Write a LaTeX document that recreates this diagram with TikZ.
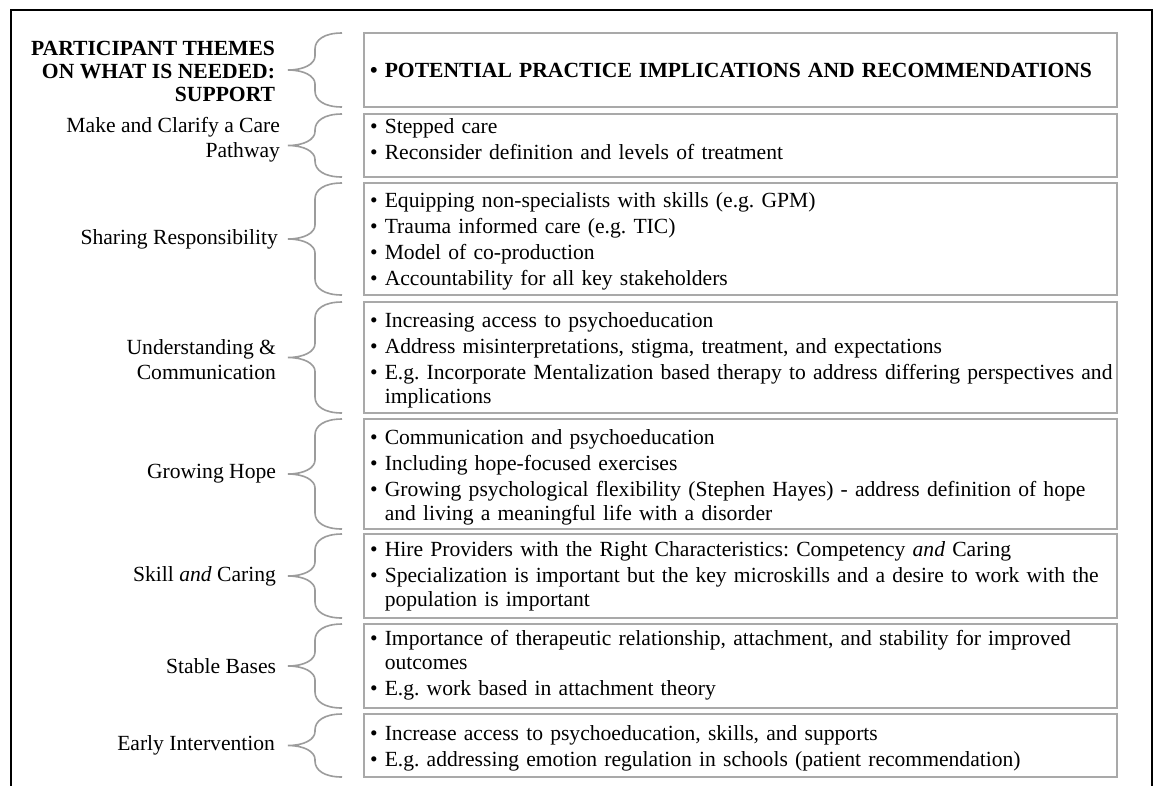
\documentclass[tikz,border=0pt]{standalone}
\usepackage{fontspec}
\setmainfont{Liberation Serif}
\usetikzlibrary{calc}
\definecolor{panelgray}{HTML}{A9A9A9}
\definecolor{bracegray}{HTML}{9C9C9C}
\frenchspacing
% hanging indent for a wrapped bullet line
\newcommand{\hang}{\phantom{\textbullet\ }}
% curly bracket on the left side of a panel node
\newcommand{\bracefor}[1]{%
  \draw[bracket]
    ($(#1.north west)+(-22,0)$)
    .. controls ($(#1.north west)+(-40,0)$) and ($(#1.north west)+(-49,7)$) ..
    ($(#1.north west)+(-49,16)$)
    -- ($(#1.west)+(-49,-14)$)
    .. controls ($(#1.west)+(-49,-6)$) and ($(#1.west)+(-60,0)$) ..
    ($(#1.west)+(-76,0)$)
    .. controls ($(#1.west)+(-60,0)$) and ($(#1.west)+(-49,6)$) ..
    ($(#1.west)+(-49,14)$)
    -- ($(#1.south west)+(-49,-16)$)
    .. controls ($(#1.south west)+(-49,-7)$) and ($(#1.south west)+(-40,0)$) ..
    ($(#1.south west)+(-22,0)$);}
\begin{document}
\begin{tikzpicture}[x=1pt,y=-1pt,
  every node/.style={inner sep=0pt, outer sep=0pt},
  panel/.style={draw=panelgray, line width=2pt, minimum width=753pt, anchor=north west},
  items/.style={font=\fontsize{21.6}{24.5}\selectfont, text width=780pt, align=left, anchor=base west},
  headitems/.style={items, font=\fontsize{21.6}{24.5}\selectfont\bfseries},
  theme/.style={font=\fontsize{21.6}{24.5}\selectfont, align=right, anchor=east},
  headtheme/.style={theme, font=\fontsize{21.6}{23}\selectfont\bfseries},
  bracket/.style={draw=bracegray, line width=1.6pt},
  frame/.style={line width=2.6pt}]

\fill[white] (0,0) rectangle (1155,785);
\useasboundingbox (0,0) rectangle (1155,785);

% outer frame, open at the bottom
\draw[frame] (11,790) -- (11,10) -- (1152,10) -- (1152,790);

% right-hand panels
\node[panel, minimum height=74pt]  (p1) at (364,33)  {};
\node[panel, minimum height=63pt]  (p2) at (364,114) {};
\node[panel, minimum height=112pt] (p3) at (364,183) {};
\node[panel, minimum height=111pt] (p4) at (364,302) {};
\node[panel, minimum height=110pt] (p5) at (364,419) {};
\node[panel, minimum height=84pt]  (p6) at (364,534) {};
\node[panel, minimum height=84pt]  (p7) at (364,624) {};
\node[panel, minimum height=63pt]  (p8) at (364,714) {};

% panel contents
\node[headitems] (i1) at ($(p1.west)+(6,7)$)
  {\textbullet\ POTENTIAL PRACTICE IMPLICATIONS AND RECOMMENDATIONS};
\node[items] (i2) at ($(p2.north west)+(6,19)$)
  {\textbullet\ Stepped care\\[1.5pt]
   \textbullet\ Reconsider definition and levels of treatment};
\node[items] (i3) at ($(p3.north west)+(6,24)$)
  {\textbullet\ Equipping non-specialists with skills (e.g. GPM)\\[1.5pt]
   \textbullet\ Trauma informed care (e.g. TIC)\\[1.5pt]
   \textbullet\ Model of co-production\\[1.5pt]
   \textbullet\ Accountability for all key stakeholders};
\node[items] (i4) at ($(p4.north west)+(6,25)$)
  {\textbullet\ Increasing access to psychoeducation\\[1.5pt]
   \textbullet\ Address misinterpretations, stigma, treatment, and expectations\\[1.5pt]
   \textbullet\ E.g. Incorporate Mentalization based therapy to address differing perspectives and\\
   \hang implications};
\node[items] (i5) at ($(p5.north west)+(6,25)$)
  {\textbullet\ Communication and psychoeducation\\[1.5pt]
   \textbullet\ Including hope-focused exercises\\[1.5pt]
   \textbullet\ Growing psychological flexibility (Stephen Hayes) - address definition of hope\\
   \hang and living a meaningful life with a disorder};
\node[items] (i6) at ($(p6.north west)+(6,22)$)
  {\textbullet\ Hire Providers with the Right Characteristics: Competency \emph{and} Caring\\[1.5pt]
   \textbullet\ Specialization is important but the key microskills and a desire to work with the\\
   \hang population is important};
\node[items] (i7) at ($(p7.north west)+(6,21)$)
  {\textbullet\ Importance of therapeutic relationship, attachment, and stability for improved\\
   \hang outcomes\\[1.5pt]
   \textbullet\ E.g. work based in attachment theory};
\node[items] (i8) at ($(p8.north west)+(6,26)$)
  {\textbullet\ Increase access to psychoeducation, skills, and supports\\[1.5pt]
   \textbullet\ E.g. addressing emotion regulation in schools (patient recommendation)};

% left-hand themes
\node[headtheme] (l1) at ($(p1.west)+(-89,1)$)
  {PARTICIPANT THEMES\\ON WHAT IS NEEDED:\\SUPPORT};
\node[theme] (l2) at ($(p2.west)+(-84,-6)$) {Make and Clarify a Care\\Pathway};
\node[theme] (l3) at ($(p3.west)+(-86,0)$) {Sharing Responsibility};
\node[theme] (l4) at ($(p4.west)+(-88,2)$) {Understanding \&\\Communication};
\node[theme] (l5) at ($(p5.west)+(-88,0)$) {Growing Hope};
\node[theme] (l6) at ($(p6.west)+(-88,0)$) {Skill \emph{and} Caring};
\node[theme] (l7) at ($(p7.west)+(-88,0)$) {Stable Bases};
\node[theme] (l8) at ($(p8.west)+(-89,0)$) {Early Intervention};

% brackets joining each theme to its panel
\bracefor{p1}
\bracefor{p2}
\bracefor{p3}
\bracefor{p4}
\bracefor{p5}
\bracefor{p6}
\bracefor{p7}
\bracefor{p8}
\end{tikzpicture}
\end{document}
